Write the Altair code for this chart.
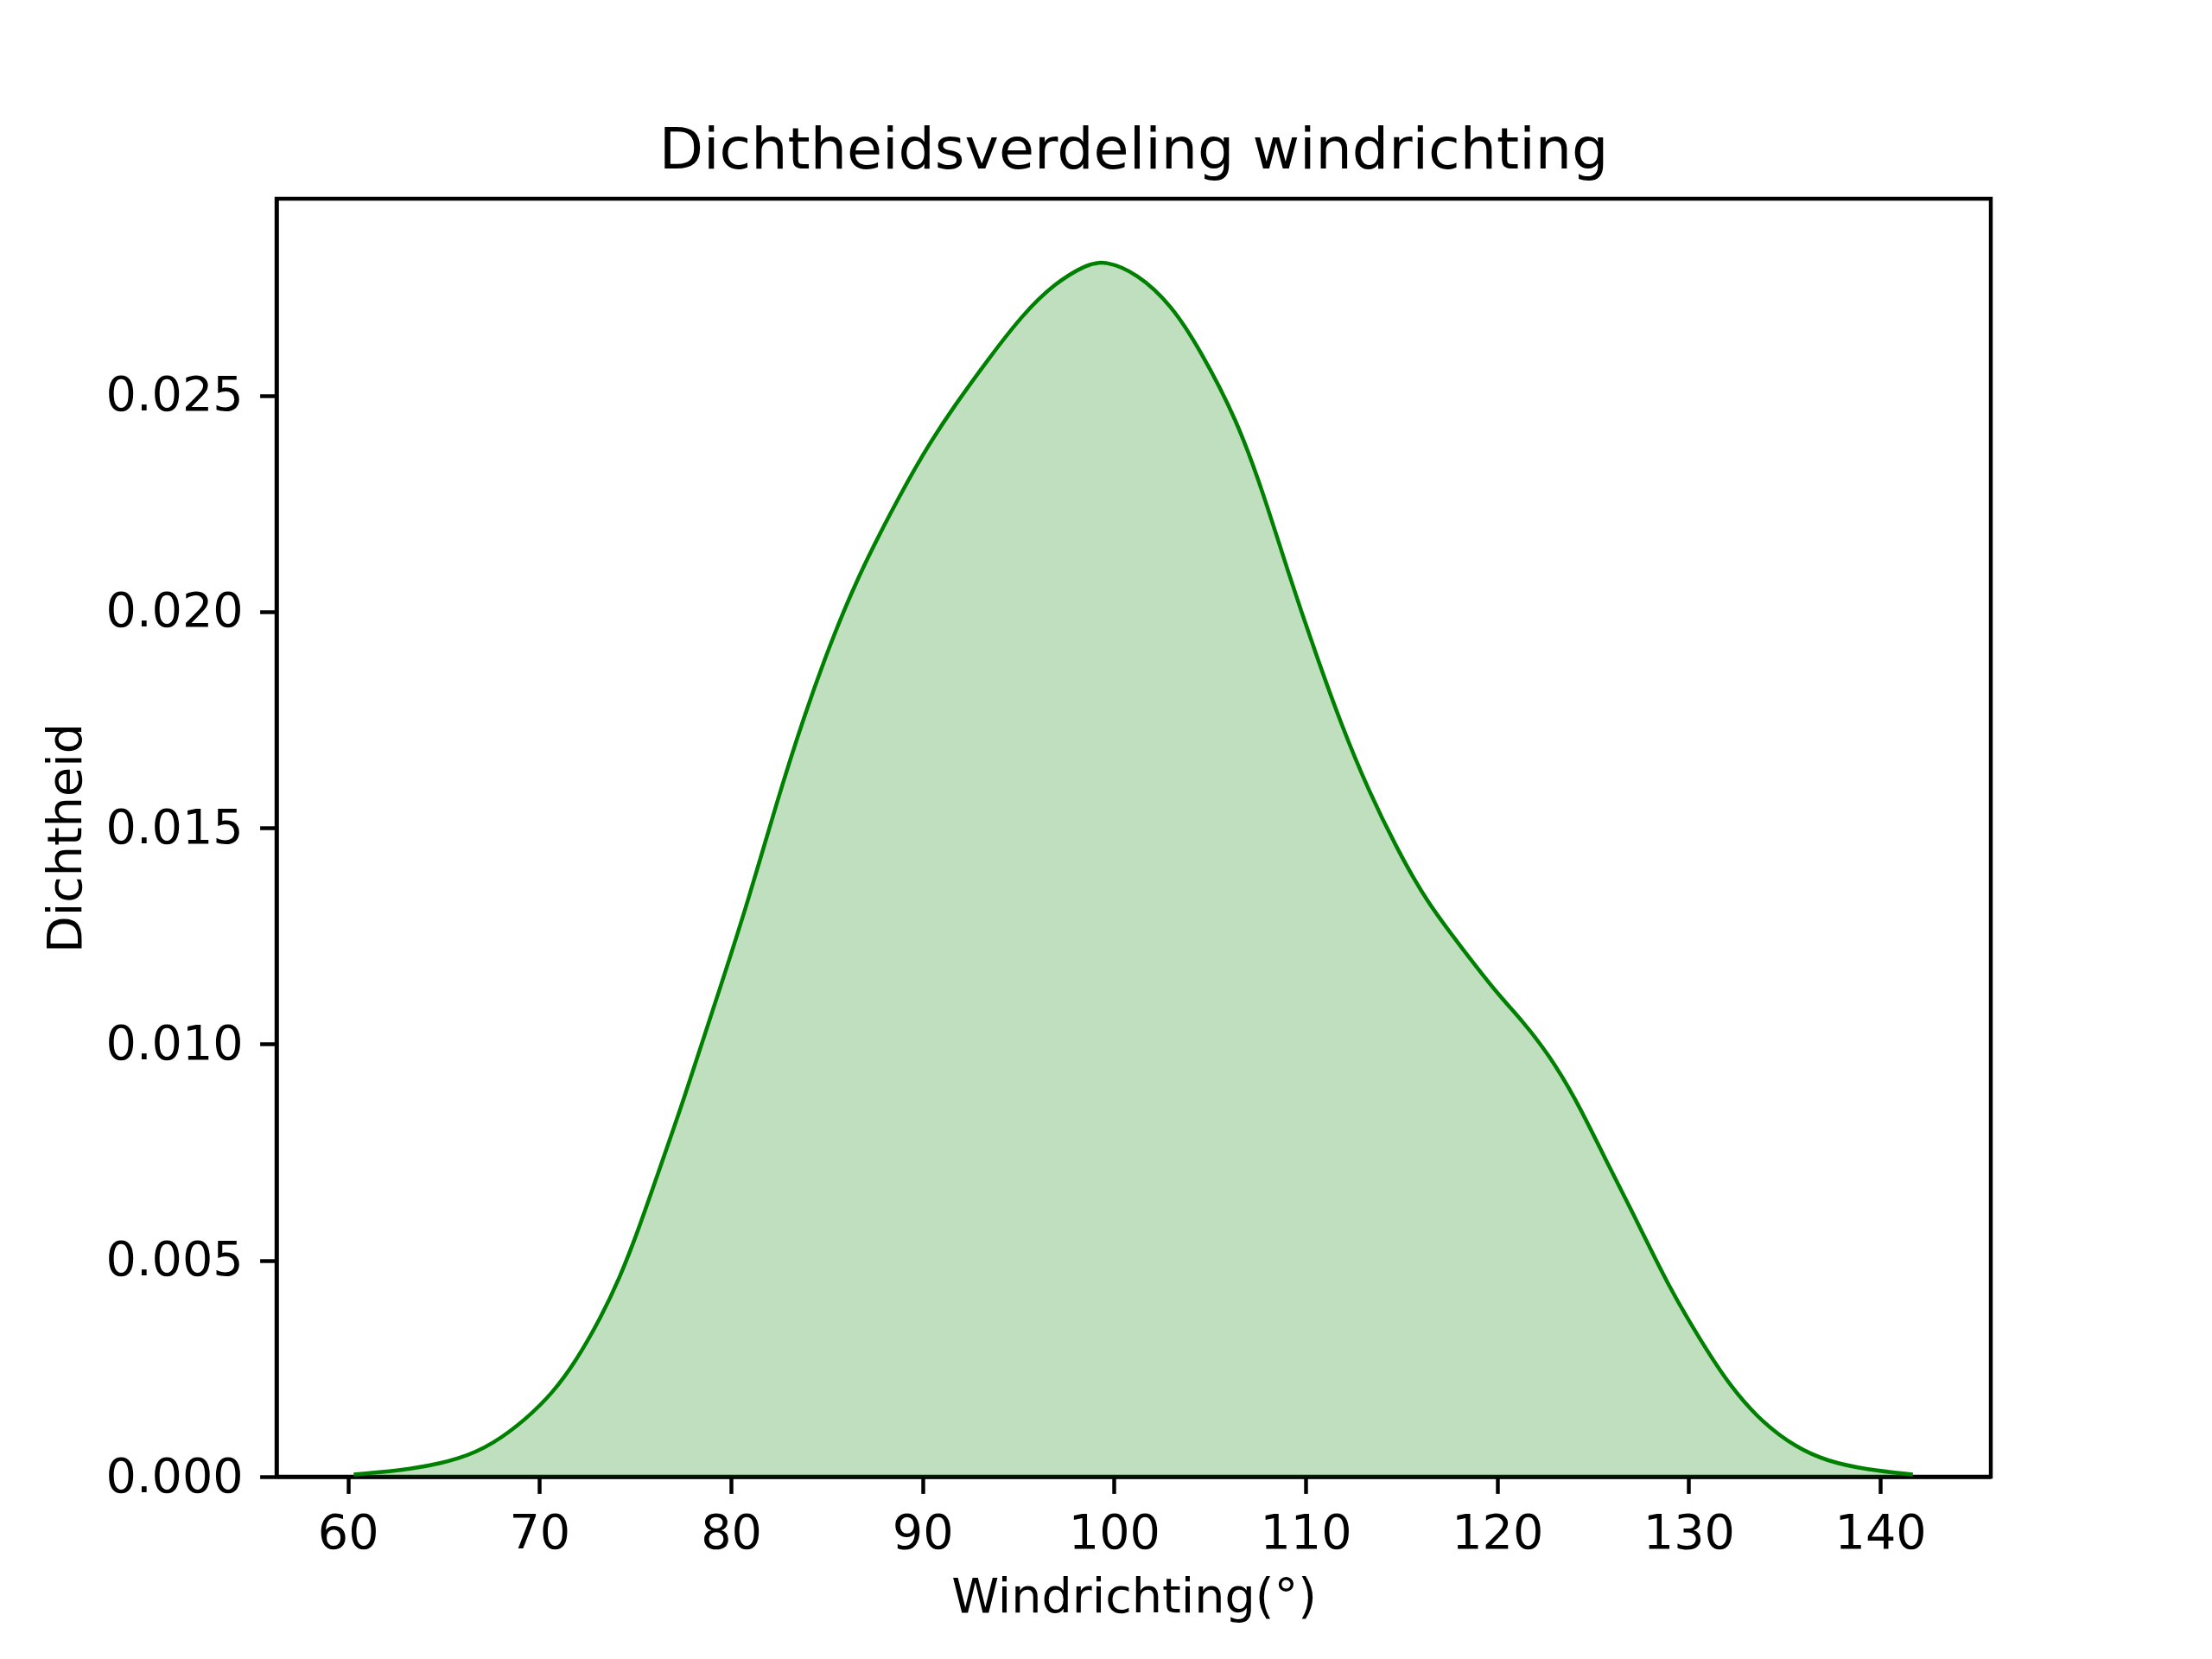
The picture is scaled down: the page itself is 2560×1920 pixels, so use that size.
import altair as alt
import pandas as pd

# Values (KDE of wind direction)
wind_deg = [60.3, 63.3, 65.9, 67.6, 69.3, 70.7, 71.9, 73.1, 74.2, 75.2,
            76.2, 77.3, 78.3, 79.4, 80.9, 82.4, 83.8, 85.2, 86.6, 88.3,
            90.0, 91.7, 93.5, 95.2, 96.9, 98.6, 99.5, 101.2, 103.0, 104.5,
            106.4, 107.8, 109.1, 110.5, 111.9, 113.3, 114.7, 116.3, 118.2, 120.0,
            121.3, 122.7, 124.2, 125.6, 127.3, 128.9, 130.6, 132.2, 133.9, 135.6,
            137.2, 139.3, 141.7]
density = [0.00005, 0.00016, 0.00041, 0.00076, 0.00133, 0.00194, 0.00267, 0.00359, 0.00460, 0.00575,
           0.00703, 0.00842, 0.00978, 0.01126, 0.01332, 0.01562, 0.01757, 0.01929, 0.02078, 0.02227,
           0.02365, 0.02479, 0.02588, 0.02686, 0.02760, 0.02804, 0.02812, 0.02783, 0.02709, 0.02605,
           0.02445, 0.02273, 0.02089, 0.01906, 0.01734, 0.01585, 0.01458, 0.01330, 0.01220, 0.01117,
           0.01055, 0.00976, 0.00866, 0.00738, 0.00591, 0.00444, 0.00316, 0.00206, 0.00123, 0.00068,
           0.00036, 0.00016, 0.00005]

x_ticks = [60, 70, 80, 90, 100, 110, 120, 130, 140]
y_ticks = [0.0, 0.005, 0.010, 0.015, 0.020, 0.025]

df = pd.DataFrame({"Windrichting": wind_deg, "Dichtheid": density})

x_enc = alt.X(
    "Windrichting:Q",
    scale=alt.Scale(domain=[56.27, 145.77], nice=False, zero=False),
    axis=alt.Axis(values=x_ticks, format="d", title="Windrichting(°)",
                  titlePadding=18, labelFlush=False, labelOverlap=False),
)
y_enc = alt.Y(
    "Dichtheid:Q",
    scale=alt.Scale(domain=[0, 0.02955], nice=False),
    axis=alt.Axis(values=y_ticks, format=".3f", title="Dichtheid",
                  titlePadding=17, labelOverlap=False),
)

area = alt.Chart(df).mark_area(
    color="#008000", opacity=0.25, interpolate="basis"
).encode(x=x_enc, y=y_enc)

line = alt.Chart(df).mark_line(
    color="#008000", strokeWidth=4.5, interpolate="basis"
).encode(x="Windrichting:Q", y="Dichtheid:Q")

chart = (area + line).properties(
    width=1984,
    height=1479,
    title=alt.TitleParams(
        text="Dichtheidsverdeling windrichting",
        font="DejaVu Sans", fontSize=66.7, fontWeight="normal", color="black",
        anchor="middle", frame="group", offset=-32, baseline="alphabetic",
    ),
    autosize=alt.AutoSizeParams(type="none"),
    padding={"left": 312, "top": 222, "right": 248, "bottom": 203},
).configure(
    background="white"
).configure_view(
    stroke="black", strokeWidth=4.44, fill="white"
).configure_axis(
    grid=False,
    domainColor="black", domainWidth=4.44,
    tickColor="black", tickWidth=4.44, tickSize=19.4,
    labelPadding=19.4,
    labelFont="DejaVu Sans", labelFontSize=55.6, labelColor="black",
    titleFont="DejaVu Sans", titleFontSize=55.6, titleFontWeight="normal", titleColor="black",
    zindex=1,
)

chart.save("out.html", embed_options={"renderer": "svg", "actions": False})
